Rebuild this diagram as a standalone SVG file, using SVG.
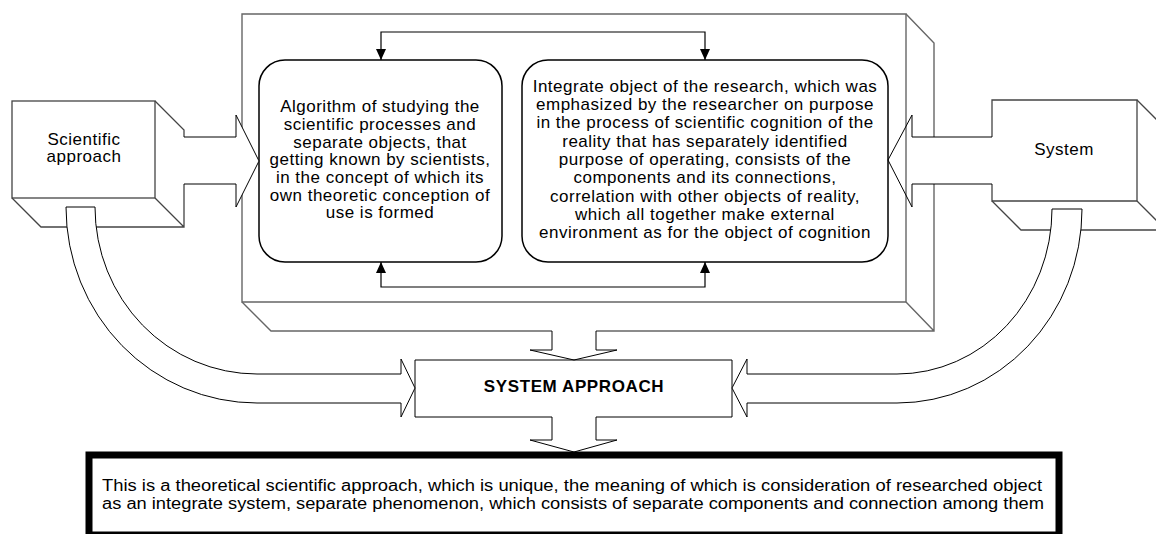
<svg xmlns="http://www.w3.org/2000/svg" width="1156" height="534" viewBox="0 0 1156 534">
<style>
.t{font-family:"Liberation Sans",Arial,sans-serif;font-size:17px;letter-spacing:0.5px;fill:#000;text-anchor:middle}
.b{font-weight:bold;letter-spacing:0.6px}
.bx{fill:none;stroke:#444;stroke-width:1.3}
.big{fill:none;stroke:#666;stroke-width:1.4}
.rb{fill:#fff;stroke:#000;stroke-width:1.5}
.ba{fill:#fff;stroke:#000;stroke-width:1}
.bn{fill:none;stroke:#000;stroke-width:1}
.cn{fill:none;stroke:#000;stroke-width:1.2}
.bt{font-family:"Liberation Sans",Arial,sans-serif;font-size:16px;fill:#000}
</style>
<defs>
<marker id="ah" viewBox="0 0 11 10" refX="11" refY="5" markerWidth="11" markerHeight="10" markerUnits="userSpaceOnUse" orient="auto-start-reverse">
<path d="M0,0 L11,5 L0,10 Z" fill="#000"/>
</marker>
</defs>
<rect width="1156" height="534" fill="#fff"/>

<g id="node-big-box">
<path class="big" d="M242,14 H906 V302 H242 Z"/>
<path class="big" d="M906,14 L934,43 V137 M934,184 V331 H596 M552,331 H271 L242,302 M906,302 L934,331"/>
</g>

<g id="node-scientific-approach">
<rect class="bx" x="12" y="101" width="143" height="97"/>
<path class="bx" d="M155,101 L184,130 V137 M184,184 V227 H41 L12,198 M155,198 L184,227"/>
<text class="t" x="84" y="145">Scientific</text>
<text class="t" x="84" y="162">approach</text>
</g>

<g id="node-system">
<path class="bx" d="M992,137 V100 H1137 V201 H992 V184"/>
<path class="bx" d="M1137,100 L1166,129 M1137,201 L1166,230 M992,201 L1021,230 H1160"/>
<text class="t" x="1064" y="155">System</text>
</g>

<g id="node-algorithm">
<rect class="rb" x="259" y="60" width="243" height="202" rx="26" ry="26"/>
<text class="t" x="380" y="112.3">Algorithm of studying the</text>
<text class="t" x="380" y="130">scientific processes and</text>
<text class="t" x="380" y="147.6">separate objects, that</text>
<text class="t" x="380" y="165.3">getting known by scientists,</text>
<text class="t" x="380" y="183">in the concept of which its</text>
<text class="t" x="380" y="200.6">own theoretic conception of</text>
<text class="t" x="380" y="218.3">use is formed</text>
</g>

<g id="node-integrate-object">
<rect class="rb" x="522" y="60" width="366" height="202" rx="26" ry="26"/>
<text class="t" x="705" y="91.7">Integrate object of the research, which was</text>
<text class="t" x="705" y="110">emphasized by the researcher on purpose</text>
<text class="t" x="705" y="128.3">in the process of scientific cognition of the</text>
<text class="t" x="705" y="146.6">reality that has separately identified</text>
<text class="t" x="705" y="165">purpose of operating, consists of the</text>
<text class="t" x="705" y="183.3">components and its connections,</text>
<text class="t" x="705" y="201.6">correlation with other objects of reality,</text>
<text class="t" x="705" y="220">which all together make external</text>
<text class="t" x="705" y="238.3">environment as for the object of cognition</text>
</g>

<g id="node-system-approach">
<rect x="415" y="360" width="317" height="57" fill="#fff"/>
<path class="bn" d="M552,417 H415 V360 H732 V417 H596"/>
<text class="t b" x="574" y="392">SYSTEM APPROACH</text>
</g>

<g id="node-definition">
<rect x="89" y="455" width="970" height="80" fill="#fff" stroke="#000" stroke-width="7"/>
<text class="bt" x="102" y="491" textLength="940" lengthAdjust="spacingAndGlyphs">This is a theoretical scientific approach, which is unique, the meaning of which is consideration of researched object</text>
<text class="bt" x="102" y="508.5" textLength="942" lengthAdjust="spacingAndGlyphs">as an integrate system, separate phenomenon, which consists of separate components and connection among them</text>
</g>

<g id="connectors">
<path class="cn" d="M381,60 V32 H705 V60" marker-start="url(#ah)" marker-end="url(#ah)"/>
<path class="cn" d="M381,262 V287 H705 V262" marker-start="url(#ah)" marker-end="url(#ah)"/>
<path class="ba" d="M184,137 H236 V115 L259,161 L236,207 V184 H184"/>
<path class="bn" d="M992,137 H912 V115 L888,160 L912,207 V184 H992"/>
<path class="ba" d="M66,207 H95 A162,167 0 0 0 257,374 H401 V359 L415,388 L401,417 V403 H257 A191,196 0 0 1 66,207 Z"/>
<path class="ba" d="M1082,209 H1052 A155,165 0 0 1 897,374 H747 V359 L732,388 L747,417 V403 H897 A185,194 0 0 0 1082,209 Z"/>
<path class="bn" d="M552,331 V350 H530 L574,360 L617,350 H596 V331"/>
<path class="bn" d="M552,417 V440 H530 L574,452 L617,440 H596 V417"/>
</g>
</svg>
